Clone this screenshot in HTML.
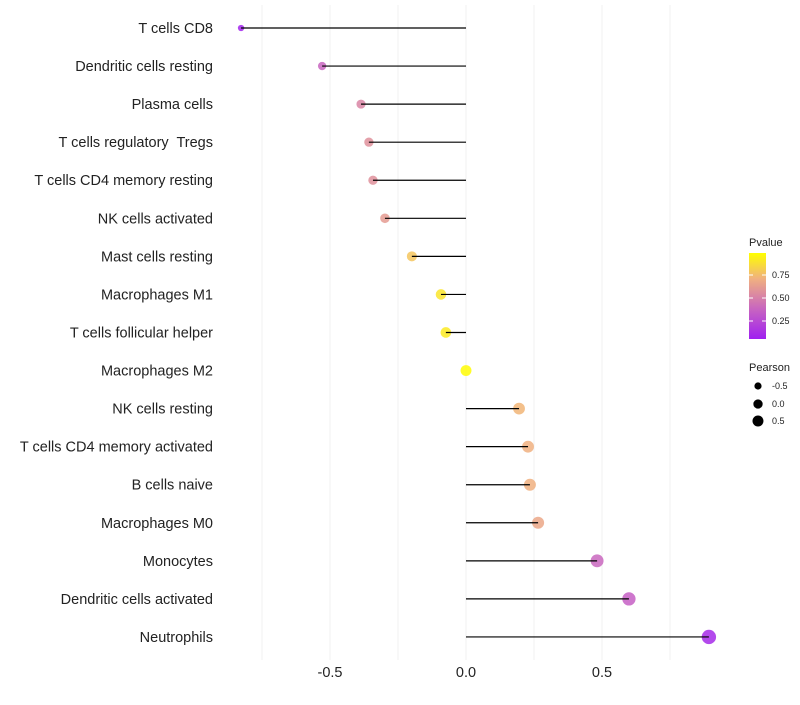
<!DOCTYPE html>
<html><head><meta charset="utf-8"><style>
body{margin:0;background:#fff;font-family:"Liberation Sans",sans-serif}
text{white-space:pre}
</style></head><body>
<svg id="c" width="800" height="700">
<defs><linearGradient id="g" x1="0" y1="1" x2="0" y2="0">
<stop offset="0" stop-color="#a020f0"/><stop offset="0.35" stop-color="#c865c0"/><stop offset="0.7" stop-color="#f0b080"/><stop offset="1" stop-color="#ffff00"/></linearGradient></defs>
</svg>
<script>
const categories=["T cells CD8","Dendritic cells resting","Plasma cells","T cells regulatory  Tregs","T cells CD4 memory resting","NK cells activated","Mast cells resting","Macrophages M1","T cells follicular helper","Macrophages M2","NK cells resting","T cells CD4 memory activated","B cells naive","Macrophages M0","Monocytes","Dendritic cells activated","Neutrophils"];
const pearson=[-0.827,-0.529,-0.386,-0.357,-0.342,-0.298,-0.199,-0.092,-0.074,0.0,0.195,0.228,0.235,0.265,0.482,0.599,0.893];
const pvalue=[0.02,0.35,0.5,0.55,0.55,0.6,0.78,0.9,0.92,0.99,0.72,0.7,0.7,0.66,0.36,0.32,0.05];
const xTicks=[-0.5,0,0.5];
const xTickLabels=["-0.5","0.0","0.5"];
const ns="http://www.w3.org/2000/svg",svg=document.getElementById('c');
const X=v=>466+v*272, Y=i=>28+i*38.06;
function mk(t,a,p){const e=document.createElementNS(ns,t);for(const k in a)e.setAttribute(k,a[k]);(p||svg).appendChild(e);return e;}
function col(p){const st=[[0,[160,32,240]],[0.35,[200,101,192]],[0.7,[240,176,128]],[1,[255,255,0]]];for(let i=1;i<st.length;i++){if(p<=st[i][0]){const t=(p-st[i-1][0])/(st[i][0]-st[i-1][0]);const a=st[i-1][1],b=st[i][1];return `rgb(${a.map((v,j)=>Math.round(v+(b[j]-v)*t)).join(',')})`;}}return 'rgb(255,255,0)';}
const R=v=>Math.sqrt(Math.max(3,30+24*v));
[-0.75,-0.5,-0.25,0,0.25,0.5,0.75].forEach(v=>{const l=mk('line',{x1:X(v),x2:X(v),y1:5,y2:660,stroke:'#f0f0f0','stroke-width':1});

});
xTicks.forEach((v,i)=>{const t=mk('text',{x:X(v),y:677,'text-anchor':'middle','font-size':14.5,fill:'#222'});t.textContent=xTickLabels[i];

});
categories.forEach((c,i)=>{
const t=mk('text',{x:213,y:Y(i)+5,'text-anchor':'end','font-size':14.5,fill:'#222'});t.textContent=c;


const d=mk('circle',{cx:X(pearson[i]),cy:Y(i),r:R(pearson[i]),fill:col(pvalue[i]),'fill-opacity':0.85});


const l=mk('line',{x1:X(0),x2:X(pearson[i]),y1:Y(i),y2:Y(i),stroke:'#000','stroke-width':1.2});


});
const lg=mk('g',{});


const tt=mk('text',{x:749,y:246,'font-size':11,fill:'#222'},lg);tt.textContent='Pvalue';
mk('rect',{x:749,y:253,width:17,height:86,fill:'url(#g)'},lg);
[[0.75,275],[0.5,298],[0.25,321]].forEach(([v,y])=>{mk('line',{x1:749,x2:753,y1:y,y2:y,stroke:'#fff'},lg);mk('line',{x1:762,x2:766,y1:y,y2:y,stroke:'#fff'},lg);
const t=mk('text',{x:772,y:y+3,'font-size':9,fill:'#222'},lg);t.textContent=v.toFixed(2);});
const pt=mk('text',{x:749,y:371,'font-size':11,fill:'#222'},lg);pt.textContent='Pearson';
[[-0.5,386,'-0.5'],[0,404,'0.0'],[0.5,421,'0.5']].forEach(([v,y,s])=>{mk('circle',{cx:758,cy:y,r:R(v)*0.85,fill:'#000'},lg);
const t=mk('text',{x:772,y:y+3,'font-size':9,fill:'#222'},lg);t.textContent=s;});
</script>
</body></html>
